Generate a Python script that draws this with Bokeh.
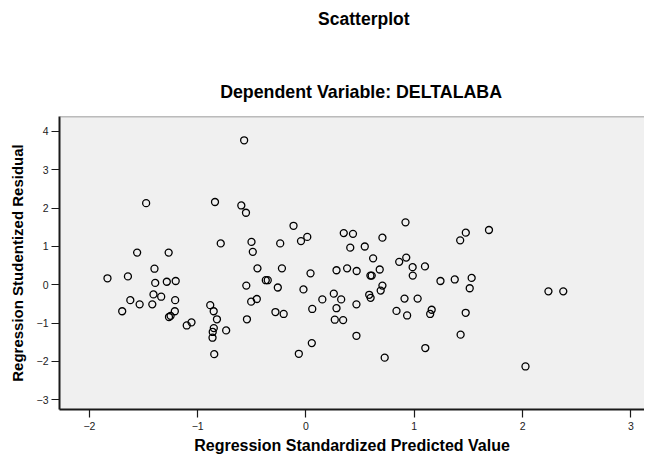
from bokeh.plotting import figure
from bokeh.layouts import column
from bokeh.models import Range1d, FixedTicker, Span, ColumnDataSource
from bokeh.core.properties import value
from bokeh.embed import file_html
from bokeh.resources import INLINE

predicted = [-0.571, -1.476, -0.840, -0.597, -0.554, -0.115, 0.919, 1.690, -0.787, -0.503,
             -0.491, -1.559, -1.268, -0.238, -0.046, 0.012, 0.349, 0.434, 0.706, 0.409,
             0.543, 0.620, 0.861, 0.926, 1.476, 1.424, -1.399, -1.833, -1.644, -1.392,
             -1.285, -1.203, -0.551, -1.408, -1.337, -1.622, -1.536, -1.419, -1.208, -0.506,
             -1.697, -1.211, -1.265, -1.250, -0.884, -0.852, -0.822, -0.737, -1.057, -1.101,
             -0.851, -0.861, -0.863, -0.847, -0.545, -0.448, -0.222, 0.042, 0.282, 0.380,
             0.468, 0.681, 0.595, 0.607, -0.371, -0.353, -0.260, -0.023, 0.706, 0.690,
             0.257, 0.325, 0.151, 0.584, 0.597, 0.910, 1.031, -0.454, 0.282, 0.058,
             0.466, 0.836, 0.934, -0.282, -0.206, 0.266, 0.343, 0.466, 0.054, -0.066,
             0.727, 0.985, 1.099, 0.986, 1.242, 1.374, 1.530, 1.512, 2.239, 2.376,
             1.161, 1.147, 1.475, 1.428, 1.102, 2.027]
residual = [3.77, 2.13, 2.16, 2.07, 1.88, 1.54, 1.63, 1.43, 1.08, 1.12,
            0.86, 0.84, 0.84, 1.08, 1.14, 1.25, 1.35, 1.33, 1.23, 0.97,
            1.00, 0.69, 0.60, 0.71, 1.36, 1.16, 0.42, 0.17, 0.22, 0.05,
            0.08, 0.10, -0.02, -0.25, -0.31, -0.40, -0.51, -0.51, -0.40, -0.44,
            -0.69, -0.69, -0.84, -0.81, -0.53, -0.69, -0.90, -1.19, -0.98, -1.06,
            -1.13, -1.23, -1.38, -1.81, -0.90, 0.43, 0.43, 0.30, 0.38, 0.43,
            0.36, 0.40, 0.24, 0.24, 0.12, 0.12, -0.07, -0.12, -0.02, -0.15,
            -0.23, -0.38, -0.38, -0.26, -0.34, -0.36, -0.36, -0.37, -0.61, -0.63,
            -0.51, -0.68, -0.80, -0.71, -0.76, -0.91, -0.92, -1.33, -1.52, -1.80,
            -1.90, 0.46, 0.48, 0.24, 0.10, 0.14, 0.18, -0.09, -0.17, -0.17,
            -0.65, -0.76, -0.73, -1.30, -1.65, -2.13]
x_ticks = [-2, -1, 0, 1, 2, 3]
y_ticks = [-3, -2, -1, 0, 1, 2, 3, 4]

title_text = "Scatterplot"
subtitle_text = "Dependent Variable: DELTALABA"
x_label = "Regression Standardized Predicted Value"
y_label = "Regression Studentized Residual"

FONT = "Liberation Sans"
Y_TOP = 4.391
W = 644
HEAD_H = 110

# ---- header with the two titles (pixel coordinates, y downwards) ----
head = figure(width=W, height=HEAD_H, output_backend="svg", toolbar_location=None,
              x_range=Range1d(0, W), y_range=Range1d(HEAD_H, 0),
              min_border=0, min_border_left=0, min_border_right=0,
              min_border_top=0, min_border_bottom=0)
head.axis.visible = False
head.grid.visible = False
head.outline_line_color = None
head.background_fill_color = "white"
head.border_fill_color = "white"
head.text(x=[335], y=[18], text=[title_text], text_align="center",
          text_baseline="alphabetic", text_font=value(FONT), text_font_style="bold",
          text_font_size="17.5px", text_color="black")
head.text(x=[332], y=[91], text=[subtitle_text], text_align="center",
          text_baseline="alphabetic", text_font=value(FONT), text_font_style="bold",
          text_font_size="17.8px", text_color="black")

# ---- main scatter ----
p = figure(width=W, height=456 - HEAD_H, output_backend="svg", toolbar_location=None,
           x_range=Range1d(-2.276, 3.126), y_range=Range1d(-3.253, Y_TOP),
           min_border_left=59, min_border_right=0, min_border_top=116 - HEAD_H,
           min_border_bottom=47)

p.background_fill_color = "#f0f0f0"
p.border_fill_color = "white"
p.outline_line_color = None
p.grid.visible = False

src = ColumnDataSource(dict(x=predicted, y=residual))
p.scatter("x", "y", source=src, marker="circle", size=7, fill_color=None,
          line_color="black", line_width=1.3)

top_line = Span(location=Y_TOP, dimension="width", line_color="#808080", line_width=1.5)
p.add_layout(top_line)

for ax in (p.xaxis[0], p.yaxis[0]):
    ax.axis_line_color = "#1a1a1a"
    ax.axis_line_width = 2
    ax.major_tick_line_color = "#1a1a1a"
    ax.major_tick_line_width = 1.2
    ax.major_tick_out = 8
    ax.major_tick_in = 0
    ax.minor_tick_line_color = None
    ax.major_label_text_font = FONT
    ax.major_label_text_font_size = "10.5px"
    ax.major_label_text_color = "#222222"
    ax.axis_label_text_font = FONT
    ax.axis_label_text_font_style = "bold"
    ax.axis_label_text_color = "black"

p.xaxis[0].ticker = FixedTicker(ticks=x_ticks)
p.yaxis[0].ticker = FixedTicker(ticks=y_ticks)
p.xaxis[0].axis_label = x_label
p.yaxis[0].axis_label = y_label
p.xaxis[0].axis_label_text_font_size = "16px"
p.yaxis[0].axis_label_text_font_size = "15px"
p.xaxis[0].major_label_standoff = 4
p.yaxis[0].major_label_standoff = 3
p.xaxis[0].axis_label_standoff = 4
p.yaxis[0].axis_label_standoff = 8

layout = column(head, p, spacing=0)

open("out.html", "w").write(file_html(layout, INLINE))
